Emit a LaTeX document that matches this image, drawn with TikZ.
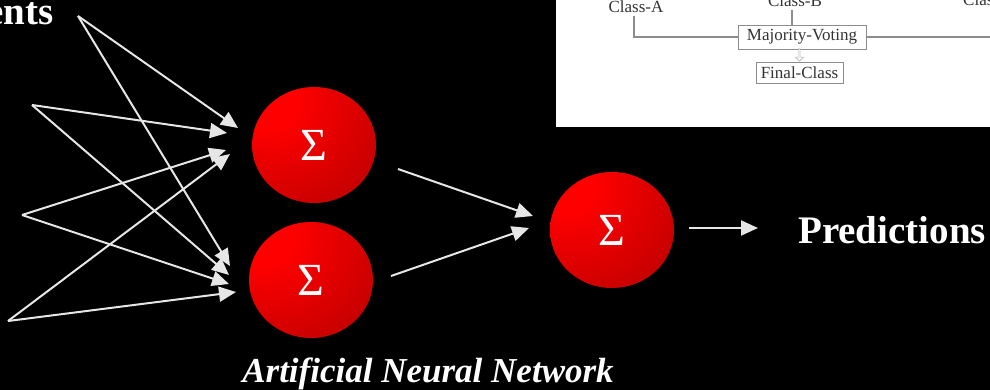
\documentclass[tikz,border=0pt]{standalone}
\usepackage{fontspec}
\setmainfont{Liberation Serif}
\usetikzlibrary{arrows.meta,shapes.geometric,shapes.arrows}

\definecolor{wirecol}{HTML}{E6E6E6}
\definecolor{ballhi}{HTML}{FF0000}
\definecolor{balllo}{HTML}{A80000}
\definecolor{inkgray}{HTML}{333333}
\definecolor{rulegray}{HTML}{8C8C8C}

% red "neuron" shading, brightest towards the upper left
\pgfdeclareradialshading{redball}{\pgfpoint{-22bp}{22bp}}{%
  color(0bp)=(ballhi); color(12bp)=(ballhi); color(60bp)=(balllo); color(100bp)=(balllo)}

\tikzset{
  wire/.style={draw=wirecol, line width=2pt,
    -{Triangle[length=17pt,width=15pt]}},
  neuron/.style={ellipse, shading=redball, inner sep=0pt,
    minimum width=124pt, minimum height=116pt,
    text=white, font=\fontsize{46}{46}\selectfont},
  bigword/.style={text=white, inner sep=0pt,
    font=\fontsize{39}{39}\selectfont\bfseries},
  smallword/.style={text=inkgray, inner sep=0pt,
    font=\fontsize{17}{17}\selectfont},
  votebox/.style={draw=rulegray, line width=0.9pt, fill=white,
    text=inkgray, inner xsep=3pt, inner ysep=2pt,
    font=\fontsize{17}{17}\selectfont},
  rule/.style={draw=rulegray, line width=1.1pt}
}

\begin{document}
\begin{tikzpicture}[x=1pt,y=-1pt]
  \useasboundingbox (0,0) rectangle (990,390);
  \clip (0,0) rectangle (990,390);
  \fill[black] (0,0) rectangle (990,390);

  % ---- majority voting sketch (upper right) ----
  \fill[white] (556,0) rectangle (990,127);
  \node[votebox, minimum width=128pt, minimum height=24pt] (vote) at (802,37) {Majority-Voting};
  \node[votebox, minimum width=87pt, minimum height=21pt] (final) at (799.5,72.5) {Final-Class};
  \node[smallword, anchor=base] (classA) at (636,13) {Class-A};
  \node[smallword, anchor=base] (classB) at (795,7) {Class-B};
  \node[smallword, anchor=base west] (classC) at (963,6) {Class};
  \coordinate (railA) at (634,16);
  \coordinate (railB) at (792,10);
  \coordinate (railC) at (990,37);
  \draw[rule] (railA) |- (vote.west);
  \draw[rule] (railB) -- (railB |- vote.north);
  \draw[rule] (vote.east) -- (railC);
  \node[single arrow, draw=rulegray!60, fill=white, line width=0.6pt,
        minimum height=13pt, minimum width=8pt, single arrow head extend=1.5pt,
        inner sep=0pt, shape border rotate=270, anchor=tip] (down) at (final.north) {};

  % ---- labels ----
  \node[bigword, anchor=base east] (lblA) at (54,25) {ents};
  \node[bigword, anchor=base east] (lblB) at (1,135) {s};
  \node[bigword, anchor=base west] (pred) at (798,243) {Predictions};
  \node[text=white, inner sep=0pt, anchor=base,
        font=\fontsize{35}{35}\selectfont\bfseries\itshape] (title) at (428,382) {Artificial Neural Network};

  % ---- neurons ----
  \node[neuron] (h1) at (314,145) {Σ};
  \node[neuron] (h2) at (311,280) {Σ};
  \node[neuron] (out) at (612,230) {Σ};

  % ---- input points and arrow tips ----
  \coordinate (in1) at (78,16);
  \coordinate (in2) at (32,105);
  \coordinate (in3) at (22,215);
  \coordinate (in4) at (8,321);

  \coordinate (t1) at (238,128);
  \coordinate (t2) at (227,133);
  \coordinate (t3) at (226,150);
  \coordinate (t4) at (230,154);
  \coordinate (b1) at (230,266);
  \coordinate (b2) at (229,275);
  \coordinate (b3) at (229,284);
  \coordinate (b4) at (236,292);

  \draw[wire] (in1) -- (t1);
  \draw[wire] (in1) -- (b1);
  \draw[wire] (in2) -- (t2);
  \draw[wire] (in2) -- (b2);
  \draw[wire] (in3) -- (t3);
  \draw[wire] (in3) -- (b3);
  \draw[wire] (in4) -- (t4);
  \draw[wire] (in4) -- (b4);

  % ---- hidden to output ----
  \coordinate (h1o) at (398,169);
  \coordinate (h2o) at (391,276);
  \coordinate (oi1) at (533,216);
  \coordinate (oi2) at (529,228);
  \draw[wire] (h1o) -- (oi1);
  \draw[wire] (h2o) -- (oi2);

  % ---- output to predictions ----
  \coordinate (oo) at (689,228);
  \coordinate (po) at (758,228);
  \draw[wire] (oo) -- (po);
\end{tikzpicture}
\end{document}
